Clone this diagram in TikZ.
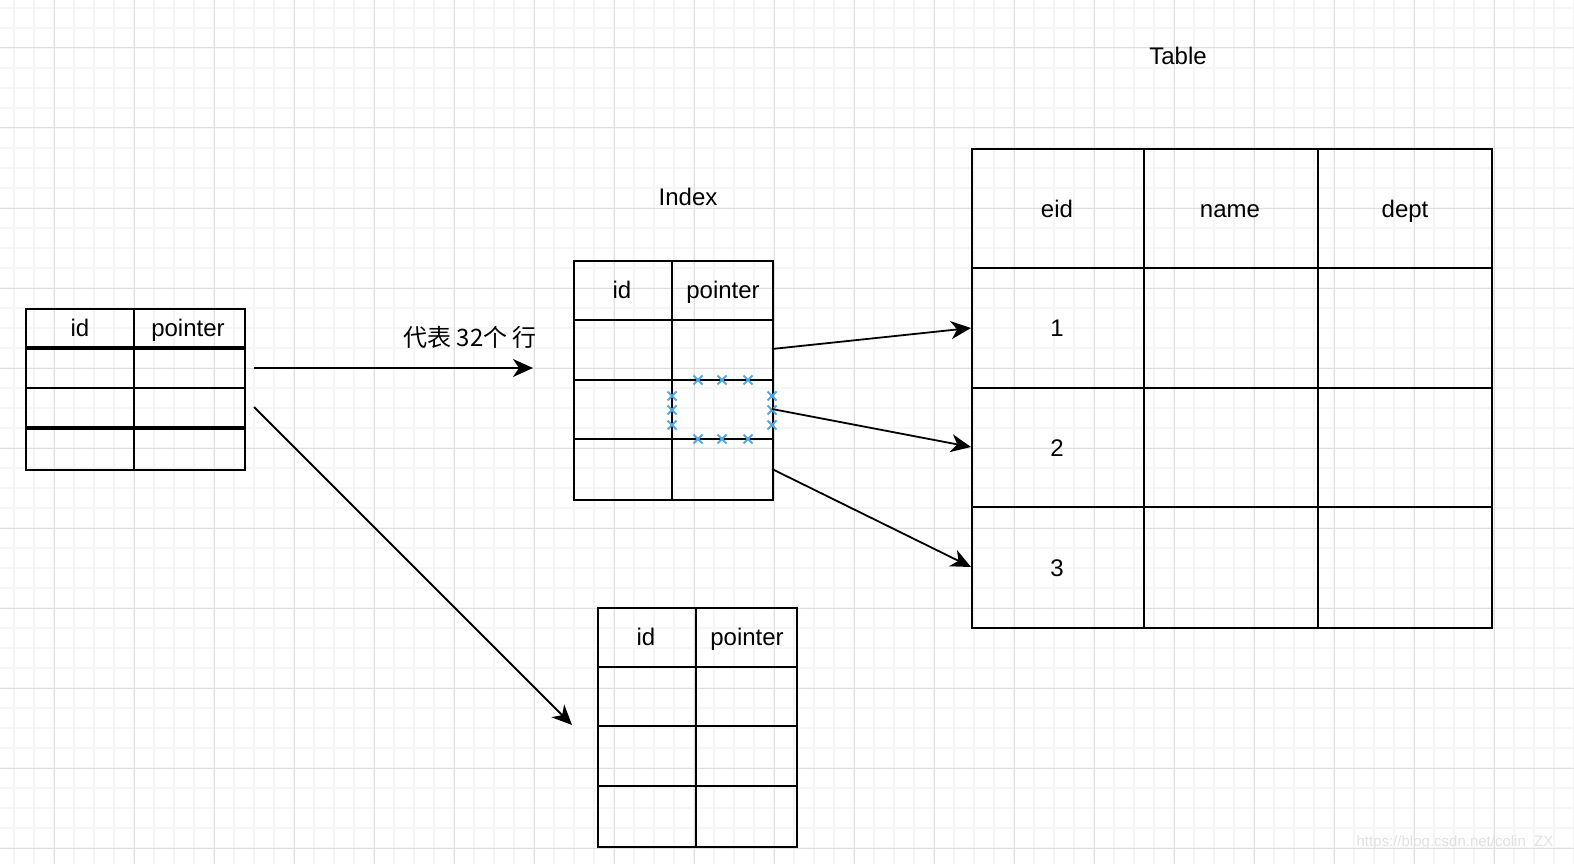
\documentclass[tikz,border=0pt]{standalone}
\usepackage{fontspec}
\setmainfont{Liberation Sans}
\newfontfamily\cjk{Noto Sans CJK SC}
\usetikzlibrary{arrows.meta}
\tikzset{
  cell/.style={draw=black, line width=2pt},
  thickline/.style={draw=black, line width=3.6pt},
  lbl/.style={font=\fontsize{24}{28}\selectfont, inner sep=0pt, text height=17pt, text depth=5pt},
  conn/.style={draw=black, line width=1.8pt, -{Stealth[length=20pt,width=18pt,inset=6pt]}},
  mk/.style={draw={rgb,255:red,77;green,170;blue,232}, line width=2pt},
  box/.style={draw=black, line width=2pt, rectangle, inner sep=0pt, anchor=north west}
}
\begin{document}
\begin{tikzpicture}[x=1pt,y=-1pt]
\useasboundingbox (0,0) rectangle (1574,864);
\fill[white] (0,0) rectangle (1574,864);
% grid
\foreach \x in {14,34,...,1574} \draw[color={rgb,255:red,245;green,245;blue,245}, line width=1.2pt] (\x,0) -- (\x,864);
\foreach \y in {8,28,...,864} \draw[color={rgb,255:red,245;green,245;blue,245}, line width=1.2pt] (0,\y) -- (1574,\y);
\foreach \x in {54,134,...,1574} \draw[color={rgb,255:red,222;green,222;blue,222}, line width=1pt] (\x,0) -- (\x,864);
\foreach \y in {48,128,...,864} \draw[color={rgb,255:red,222;green,222;blue,222}, line width=1pt] (0,\y) -- (1574,\y);

% left table
\node[box, minimum width=219pt, minimum height=161pt] (lt) at (25,308) {};
\draw[cell] (134,308) -- (134,469);
\draw[thickline] (25,348) -- (244,348);
\draw[cell] (25,388) -- (244,388);
\draw[thickline] (25,428) -- (244,428);
\node[lbl] (ltid) at (80,330) {id};
\node[lbl] (ltp) at (188,330) {pointer};

% index table
\node[lbl] (idxlbl) at (688,199) {Index};
\node[box, minimum width=199pt, minimum height=239pt] (it) at (573,260) {};
\draw[cell] (672,260) -- (672,499);
\draw[cell] (573,320) -- (772,320);
\draw[cell] (573,380) -- (772,380);
\draw[cell] (573,439) -- (772,439);
\node[lbl] (itid) at (622,292) {id};
\node[lbl] (itp) at (723,292) {pointer};

% blue markers
\foreach \p in {(698,380),(722,380),(748,380),(698,439),(722,439),(748,439),(672,396),(672,410),(672,425),(772,396),(772,410),(772,425)} {
  \draw[mk] \p ++(-4.5,-4.5) -- ++(9,9);
  \draw[mk] \p ++(-4.5,4.5) -- ++(9,-9);
}

% bottom table
\node[box, minimum width=199pt, minimum height=239pt] (bt) at (597,607) {};
\draw[cell] (696,607) -- (696,846);
\draw[cell] (597,667) -- (796,667);
\draw[cell] (597,726) -- (796,726);
\draw[cell] (597,786) -- (796,786);
\node[lbl] (btid) at (646,639) {id};
\node[lbl] (btp) at (747,639) {pointer};

% big table
\node[lbl] (tbllbl) at (1178,59) {Table};
\node[box, minimum width=520pt, minimum height=479pt] (tt) at (971,148) {};
\draw[cell] (1144,148) -- (1144,627);
\draw[cell] (1318,148) -- (1318,627);
\draw[cell] (971,268) -- (1491,268);
\draw[cell] (971,388) -- (1491,388);
\draw[cell] (971,507) -- (1491,507);
\node[lbl] (h1) at (1057,211) {eid};
\node[lbl] (h2) at (1230,211) {name};
\node[lbl] (h3) at (1405,211) {dept};
\node[lbl] (r1) at (1057,330) {1};
\node[lbl] (r2) at (1057,450) {2};
\node[lbl] (r3) at (1057,570) {3};

% connectors
\coordinate (a1s) at (254,368);
\coordinate (a1e) at (533,368);
\coordinate (a2s) at (254,407);
\coordinate (a2e) at (572,725);
\coordinate (i1) at (772,349);
\coordinate (i2) at (772,409);
\coordinate (i3) at (772,469);
\coordinate (t1) at (971,328);
\coordinate (t2) at (971,447);
\coordinate (t3) at (971,567);
\node[lbl] (cn) at (470,340) {\cjk 代表 32个 行};
\draw[conn] (a1s) -- (a1e);
\draw[conn] (a2s) -- (a2e);
\draw[conn] (i1) -- (t1);
\draw[conn] (i2) -- (t2);
\draw[conn] (i3) -- (t3);

% watermark
\node[font=\fontsize{15}{18}\selectfont, text={rgb,255:red,225;green,225;blue,225}, inner sep=0pt] (wm) at (1455,843) {https://blog.csdn.net/colin\_ZX};
\end{tikzpicture}
\end{document}
